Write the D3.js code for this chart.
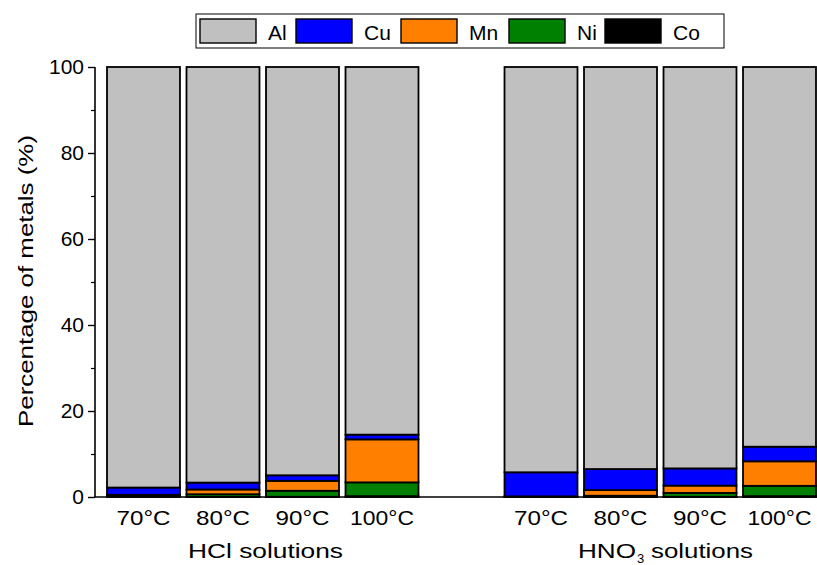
<!DOCTYPE html>
<html><head><meta charset="utf-8">
<script src="https://cdn.jsdelivr.net/npm/d3@7"></script>
<style>body{margin:0;background:#fff}svg{display:block;font-family:"Liberation Sans",Arial,sans-serif}</style>
</head><body><svg id="c" width="817" height="565"></svg>
<script>
const categories = ["HCl 70","HCl 80","HCl 90","HCl 100","gap","HNO3 70","HNO3 80","HNO3 90","HNO3 100"];
const tickLabels = ["70°C","80°C","90°C","100°C","","70°C","80°C","90°C","100°C"];
const seriesNames = ["Al","Cu","Mn","Ni","Co"];
const Co = [0.3, 0.05, 0.05, 0.2, 0, 0.1, 0.1, 0.05, 0.2];
const Ni = [0.1, 0.6, 1.4, 3.2, 0, 0.05, 0.2, 0.9, 2.4];
const Mn = [0.1, 1.1, 2.3, 10.0, 0, 0.0, 1.3, 1.7, 5.7];
const Cu = [1.7, 1.6, 1.3, 1.1, 0, 5.6, 4.9, 4.0, 3.4];
const Al = categories.map((c,i)=> c==="gap" ? 0 : 100 - Co[i]-Ni[i]-Mn[i]-Cu[i]);
const groupLabels = ["HCl solutions","HNO3 solutions"];
const colors = {Al:"#c0c0c0",Cu:"#0000ff",Mn:"#ff8000",Ni:"#008000",Co:"#000000"};

const svg = d3.select("#c");
const x = d3.scaleBand().domain(categories).range([107,816]).paddingInner(0.082).paddingOuter(0);
const y = d3.scaleLinear().domain([0,100]).range([497,67]);

const table = categories.map((c,i)=>({cat:c,Al:Al[i],Cu:Cu[i],Mn:Mn[i],Ni:Ni[i],Co:Co[i]}));
const stack = d3.stack().keys(["Co","Ni","Mn","Cu","Al"]);
const layers = stack(table);

svg.append("g").selectAll("g").data(layers).join("g")
  .attr("fill",d=>colors[d.key])
  .selectAll("rect").data(d=>d.filter(p=>p.data.cat!=="gap" && p[1]-p[0]>0)).join("rect")
  .attr("x",d=>x(d.data.cat)).attr("width",x.bandwidth())
  .attr("y",d=>y(d[1])).attr("height",d=>y(d[0])-y(d[1]))
  .attr("stroke","#000").attr("stroke-width",1.8);

// y axis
const ya = svg.append("g").attr("transform","translate(95,0)")
  .call(d3.axisLeft(y).tickValues([0,20,40,60,80,100]).tickSize(7).tickPadding(4));
ya.select(".domain").attr("stroke-width",1.6).attr("d","M0,497V67");
ya.selectAll(".tick line").attr("stroke-width",1.4);
ya.selectAll("text").attr("font-size",21).attr("font-family","Liberation Sans, Arial").attr("fill","#000");
svg.append("g").attr("transform","translate(95,0)")
  .call(d3.axisLeft(y).tickValues([10,30,50,70,90]).tickSize(4).tickFormat(""))
  .call(g=>g.select(".domain").remove())
  .selectAll("line").attr("stroke-width",1.2);

// x axis
const xa = svg.append("g").attr("transform","translate(0,497)")
  .call(d3.axisBottom(x).tickSize(0).tickPadding(13).tickFormat((d,i)=>tickLabels[i]));
xa.select(".domain").attr("d","M94,0H820").attr("stroke-width",1.6);
xa.selectAll("text").attr("font-size",21).attr("font-family","Liberation Sans, Arial").attr("fill","#000")
  .attr("dy",null).attr("y",28)
  .attr("textLength",function(){const t=this.textContent;return t.length>4?64:54;})
  .attr("lengthAdjust","spacingAndGlyphs");

// group labels
svg.append("text").attr("x",188).attr("y",558).attr("font-size",21)
  .attr("textLength",155).attr("lengthAdjust","spacingAndGlyphs").text(groupLabels[0]);
svg.append("text").attr("x",578).attr("y",558).attr("font-size",21)
  .attr("textLength",58).attr("lengthAdjust","spacingAndGlyphs").text("HNO");
svg.append("text").attr("x",637).attr("y",563).attr("font-size",13).text("3");
svg.append("text").attr("x",651).attr("y",558).attr("font-size",21)
  .attr("textLength",102).attr("lengthAdjust","spacingAndGlyphs").text("solutions");

// y title
svg.append("text").attr("transform","translate(33,427) rotate(-90)")
  .attr("font-size",21).attr("textLength",292).attr("lengthAdjust","spacingAndGlyphs")
  .text("Percentage of metals (%)");

// legend
const lg = svg.append("g");
lg.append("rect").attr("x",196).attr("y",14).attr("width",528).attr("height",34)
  .attr("fill","#fff").attr("stroke","#000").attr("stroke-width",1);
const lx = [200,296,401,509,605];
seriesNames.forEach((s,i)=>{
  lg.append("rect").attr("x",lx[i]).attr("y",19).attr("width",56).attr("height",24)
    .attr("fill",colors[s]).attr("stroke","#000").attr("stroke-width",1.4);
  lg.append("text").attr("x",lx[i]+68).attr("y",40).attr("font-size",21).text(s);
});
</script></body></html>
